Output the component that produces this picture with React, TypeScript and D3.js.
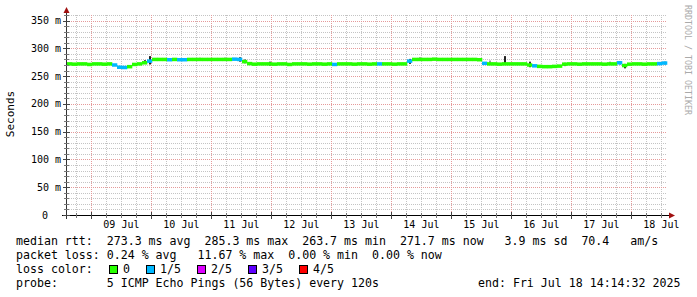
import React from "react";
import * as d3 from "d3";

const END = Date.UTC(2025, 6, 18, 14, 14, 32);
const START = END - 10 * 24 * 3600 * 1000;
const STEP_MS = 2 * 3600 * 1000;

// median RTT (ms), one value per 2-hour step from START
const medianMs = [
  272, 271.5, 272, 272, 271, 272, 272, 271.5, 272,
  270, 266, 265.5, 267, 271, 272, 274, 277,
  280, 280, 280, 279.5, 280, 279.5, 279.5, 280, 280, 280, 280, 280, 280, 280, 280, 280, 280.5, 280,
  276, 272.5,
  271.5, 272, 272, 272, 271.5, 272, 272, 271, 272, 272, 272, 271.5, 272, 272, 271.5, 272, 271, 272, 272, 272, 271.5, 272, 272, 271.5, 272, 272, 272, 272, 271.5, 272, 272,
  277,
  280, 280, 280, 280, 280.5, 280, 280, 280, 280, 280, 280, 280, 280, 279.5,
  273,
  272, 272, 271.5, 272, 272, 272, 272, 272,
  270, 268.5,
  267.5, 267, 267, 267.5, 268,
  271.5,
  272, 272, 271.5, 272, 272, 272, 272, 271.5, 272, 272,
  274, 269, 271.5,
  272, 272, 271.5, 272, 272,
  272.5, 273.5,
];

// [step index, lost pings out of 5]
const lossSteps: [number, number][] = [
  [9, 1], [10, 1], [11, 1], [16, 1], [20, 1], [22, 1], [23, 1], [33, 1], [34, 1],
  [53, 1], [62, 1], [68, 1], [83, 1], [93, 1], [110, 1], [118, 1], [119, 1],
];

// [step index, low ms, high ms, grey level]
const smokeSpikes: [number, number, number, number][] = [
  [15, 273, 279, 0x55], [16, 271, 286, 0x22], [26, 279, 283, 0x88], [31, 278, 283, 0x44],
  [34, 276, 284, 0x33], [35, 273, 280, 0x55], [40, 269, 276, 0x33], [68, 272, 281, 0x33],
  [70, 279, 284, 0x99], [84, 271, 278, 0x99], [87, 270, 286, 0x22], [92, 266, 276, 0x33],
  [99, 268, 274, 0x55], [108, 271, 276, 0x99], [110, 271, 277, 0x44], [111, 264, 272, 0x22],
  [119, 271, 276, 0x55],
];

const Y_MAX = 360;
const yMajor = [0, 50, 100, 150, 200, 250, 300, 350];
const yMajorLabels = ["0", "50 m", "100 m", "150 m", "200 m", "250 m", "300 m", "350 m"];

const lossColors = ["#26ff00", "#00b8ff", "#dd00ff", "#5e00ff", "#ff0000"];
const lossLabels = ["0", "1/5", "2/5", "3/5", "4/5"];
const lossLegendX = [109, 146, 197, 248, 299];

const legendLine1 = "median rtt:  273.3 ms avg  285.3 ms max  263.7 ms min  271.7 ms now   3.9 ms sd  70.4   am/s";
const legendLine2 = "packet loss: 0.24 % avg   11.67 % max  0.00 % min  0.00 % now";
const legendLine3 = "loss color:";
const legendLine4a = "probe:       5 ICMP Echo Pings (56 Bytes) every 120s";
const legendLine4b = "end: Fri Jul 18 14:14:32 2025";

const FONT = "DejaVu Sans Mono";

export default function App() {
  const W = 697, H = 297;
  const x = d3.scaleUtc().domain([START, END]).range([67, 667]);
  const y = d3.scaleLinear().domain([0, Y_MAX]).range([215, 15]);

  const lossMap = new Map(lossSteps.map(([i, l]) => [i, l]));

  const minorY = d3.range(10, Y_MAX + 1, 10).filter((v) => v % 50 !== 0);
  const dayTicks = d3.utcDay.range(new Date(START), new Date(END));
  const sixH = d3.utcHour.every(6)!.range(new Date(START), new Date(END)).filter((d) => d.getUTCHours() !== 0);
  const noonTicks = d3.utcDay.range(new Date(START), new Date(END + 24 * 3600 * 1000)).map((d) => new Date(+d + 12 * 3600 * 1000)).filter((d) => +d <= END);
  const fmt = d3.utcFormat("%d %b");

  const minorColor = "#c4c4c4";
  const majorColor = "#e59a9a";
  const arrowColor = "#a01010";
  const pre = { whiteSpace: "pre" as const };

  return (
    <svg width={W} height={H} style={{ display: "block", position: "absolute", left: 0, top: 0, background: "#fff" }}
      fontFamily={FONT}>
      <rect x={0} y={0} width={W} height={H} fill="#fff" />
      {/* grid */}
      {minorY.map((v) => (
        <line key={"hy" + v} x1={67} x2={667} y1={Math.round(y(v)) + 0.5} y2={Math.round(y(v)) + 0.5}
          stroke={minorColor} strokeDasharray="1,1" />
      ))}
      {sixH.map((d) => (
        <line key={"vx" + +d} x1={Math.round(x(d)) + 0.5} x2={Math.round(x(d)) + 0.5} y1={15} y2={215}
          stroke={minorColor} strokeDasharray="1,1" />
      ))}
      {yMajor.filter((v) => v > 0).map((v) => (
        <line key={"my" + v} x1={67} x2={667} y1={Math.round(y(v)) + 0.5} y2={Math.round(y(v)) + 0.5}
          stroke={majorColor} strokeDasharray="1,1" />
      ))}
      {dayTicks.map((d) => (
        <line key={"mx" + +d} x1={Math.round(x(d)) + 0.5} x2={Math.round(x(d)) + 0.5} y1={15} y2={215}
          stroke={majorColor} strokeDasharray="1,1" />
      ))}

      {/* smoke */}
      {smokeSpikes.map(([i, lo, hi, g]) => {
        const x0 = x(START + i * STEP_MS);
        const x1 = x(START + (i + 1) * STEP_MS);
        const cx = Math.round((x0 + x1) / 2);
        const c = `rgb(${g},${g},${g})`;
        return <rect key={"s" + i} x={cx - 1} y={y(hi)} width={2} height={y(lo) - y(hi)} fill={c} />;
      })}

      {/* median band coloured by loss */}
      {medianMs.map((v, i) => {
        const x0 = x(START + i * STEP_MS);
        const x1 = x(START + (i + 1) * STEP_MS);
        const l = lossMap.get(i) ?? 0;
        return (
          <rect key={"m" + i} x={x0} y={y(v) - 1.75} width={x1 - x0 + 0.3} height={3.5} fill={lossColors[l]} />
        );
      })}

      {/* axes */}
      <line x1={66.5} x2={66.5} y1={219} y2={12} stroke="#333" />
      <path d="M63.5,13 L66.5,7 L69.5,13 Z" fill={arrowColor} />
      <line x1={62} x2={670} y1={215.5} y2={215.5} stroke="#000" />
      <path d="M669,212.5 L675,215.5 L669,218.5 Z" fill={arrowColor} />
      {minorY.map((v) => (
        <line key={"ty" + v} x1={64} x2={69} y1={Math.round(y(v)) + 0.5} y2={Math.round(y(v)) + 0.5} stroke="#777" />
      ))}
      {yMajor.map((v) => (
        <line key={"tyM" + v} x1={63} x2={70} y1={Math.round(y(v)) + 0.5} y2={Math.round(y(v)) + 0.5} stroke="#444" />
      ))}
      {sixH.map((d) => (
        <line key={"tx" + +d} x1={Math.round(x(d)) + 0.5} x2={Math.round(x(d)) + 0.5} y1={213} y2={218} stroke="#777" />
      ))}
      {dayTicks.map((d) => (
        <line key={"txM" + +d} x1={Math.round(x(d)) + 0.5} x2={Math.round(x(d)) + 0.5} y1={212} y2={219} stroke="#444" />
      ))}

      {/* y labels */}
      {yMajor.map((v, k) => (
        <text key={"yl" + v} x={v === 0 ? 48 : 61} y={y(v)} dy="0.35em" textAnchor="end" fontSize={10} fill="#000">
          {yMajorLabels[k]}
        </text>
      ))}
      {/* x labels */}
      {noonTicks.map((d) => (
        <text key={"xl" + +d} x={x(d)} y={228} textAnchor="middle" fontSize={10} fill="#000">
          {fmt(d)}
        </text>
      ))}

      <text transform="translate(14,114) rotate(-90)" textAnchor="middle" fontSize={11} fill="#000">Seconds</text>
      <text transform="translate(685,5) rotate(90)" textAnchor="start" fontSize={8.3} fill="#aaa">RRDTOOL / TOBI OETIKER</text>

      {/* legend */}
      <text x={16} y={245} fontSize={11.6} fill="#000" style={pre}>{legendLine1}</text>
      <text x={16} y={259} fontSize={11.6} fill="#000" style={pre}>{legendLine2}</text>
      <text x={16} y={273} fontSize={11.6} fill="#000" style={pre}>{legendLine3}</text>
      {lossColors.map((c, k) => (
        <g key={"lc" + k}>
          <rect x={lossLegendX[k] + 0.5} y={265.5} width={8} height={8} fill={c} stroke="#000" />
          <text x={lossLegendX[k] + 14} y={273} fontSize={11.6} fill="#000">{lossLabels[k]}</text>
        </g>
      ))}
      <text x={16} y={287} fontSize={11.6} fill="#000" style={pre}>{legendLine4a}</text>
      <text x={478} y={287} fontSize={11.6} fill="#000" style={pre}>{legendLine4b}</text>
    </svg>
  );
}
